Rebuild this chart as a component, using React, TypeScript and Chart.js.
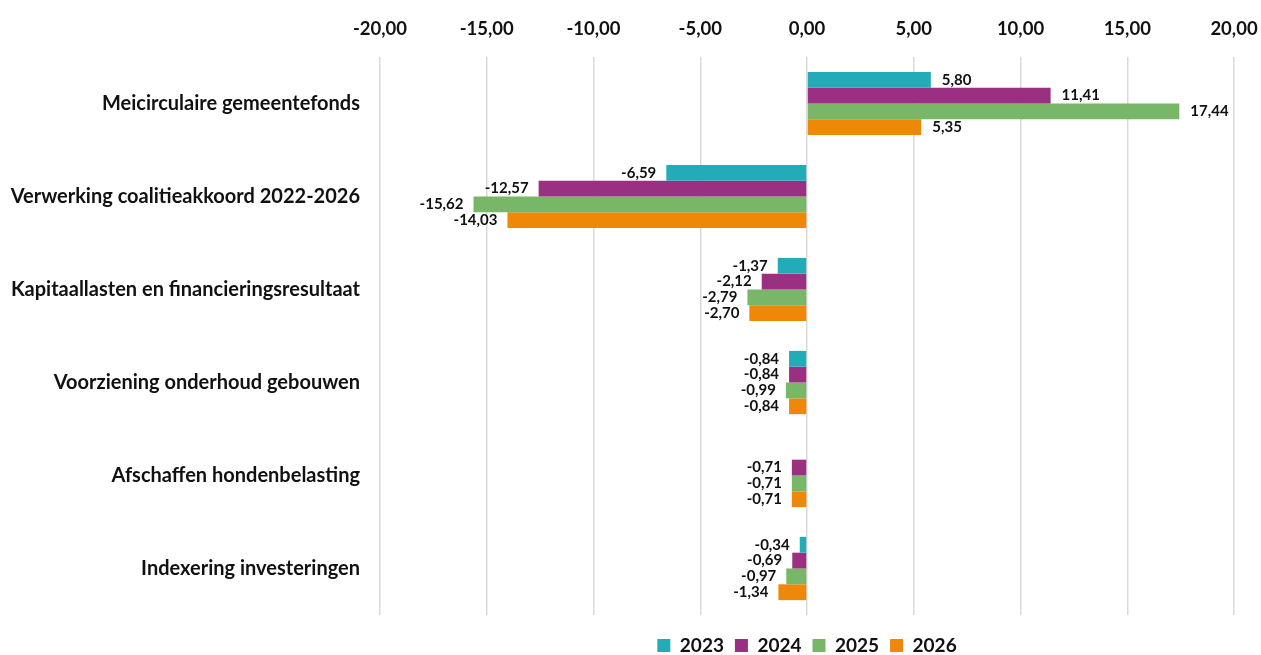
import React, { useEffect, useRef } from "react";
import { Chart, registerables } from "chart.js";

Chart.register(...registerables);

const categories = [
  "Meicirculaire gemeentefonds",
  "Verwerking coalitieakkoord 2022-2026",
  "Kapitaallasten en financieringsresultaat",
  "Voorziening onderhoud gebouwen",
  "Afschaffen hondenbelasting",
  "Indexering investeringen",
];
const seriesNames = ["2023", "2024", "2025", "2026"];
const values2023 = [5.8, -6.59, -1.37, -0.84, 0, -0.34];
const values2024 = [11.41, -12.57, -2.12, -0.84, -0.71, -0.69];
const values2025 = [17.44, -15.62, -2.79, -0.99, -0.71, -0.97];
const values2026 = [5.35, -14.03, -2.7, -0.84, -0.71, -1.34];
const colors = ["#23ABB7", "#9B2F82", "#77B767", "#EF8709"];
const xMin = -20;
const xMax = 20;
const xStep = 5;

const FONT = "Lato, 'Open Sans', sans-serif";
const fmt = (v: number) => v.toFixed(2).replace(".", ",");

const labelPlugin = {
  id: "barLabels",
  afterLayout(chart: any) {
    const lg = chart.legend;
    if (lg) {
      lg.left = chart.chartArea.left;
      lg.right = chart.chartArea.right;
      lg.top += 10;
      lg.bottom += 10;
    }
  },
  afterDatasetsDraw(chart: any) {
    const ctx = chart.ctx;
    ctx.save();
    ctx.font = `bold 15px ${FONT}`;
    ctx.fillStyle = "#111";
    ctx.textBaseline = "middle";
    chart.data.datasets.forEach((ds: any, di: number) => {
      const meta = chart.getDatasetMeta(di);
      meta.data.forEach((el: any, i: number) => {
        const v = ds.data[i];
        if (!v) return;
        if (v > 0) {
          ctx.textAlign = "left";
          ctx.fillText(fmt(v), el.x + 11, el.y);
        } else {
          ctx.textAlign = "right";
          ctx.fillText(fmt(v), el.x - 10, el.y);
        }
      });
    });
    ctx.restore();
  },
};

export default function App() {
  const ref = useRef<HTMLCanvasElement>(null);
  useEffect(() => {
    const all = [values2023, values2024, values2025, values2026];
    const chart = new Chart(ref.current!, {
      type: "bar",
      data: {
        labels: categories,
        datasets: all.map((d, i) => ({
          label: seriesNames[i],
          data: d,
          backgroundColor: colors[i],
          borderWidth: 0,
          barPercentage: 1,
          categoryPercentage: 0.68,
        })),
      },
      options: {
        indexAxis: "y",
        animation: false,
        responsive: true,
        maintainAspectRatio: false,
        layout: { padding: { left: 0, right: 27, top: 0, bottom: 0 } },
        scales: {
          x: {
            position: "top",
            min: xMin,
            max: xMax,
            ticks: {
              stepSize: xStep,
              callback: (v: any) => fmt(Number(v)),
              font: { family: FONT, size: 18.5, weight: "bold" },
              color: "#111",
              padding: 17,
            },
            grid: { color: "#d9d9d9", lineWidth: 1.5, drawTicks: false },
            border: { display: false },
            afterFit: (s: any) => {
              s.height = 57;
              s.paddingRight = 0;
              s.paddingLeft = 0;
            },
          },
          y: {
            ticks: {
              font: { family: FONT, size: 20, weight: "bold" },
              color: "#111",
              padding: 12,
            },
            grid: { display: false },
            border: { display: false },
            afterFit: (s: any) => {
              s.width = 380;
            },
          },
        },
        plugins: {
          legend: {
            position: "bottom",
            maxHeight: 40,
            labels: {
              font: { family: FONT, size: 19, weight: "bold" },
              color: "#111",
              boxWidth: 13,
              boxHeight: 13,
              padding: 11,
            },
          },
          tooltip: { enabled: false },
        },
      },
      plugins: [labelPlugin],
    });
    return () => chart.destroy();
  }, []);
  return (
    <div style={{ position: "absolute", left: 0, top: 0, width: 1261, height: 655, background: "#fff" }}>
      <canvas ref={ref} />
    </div>
  );
}
